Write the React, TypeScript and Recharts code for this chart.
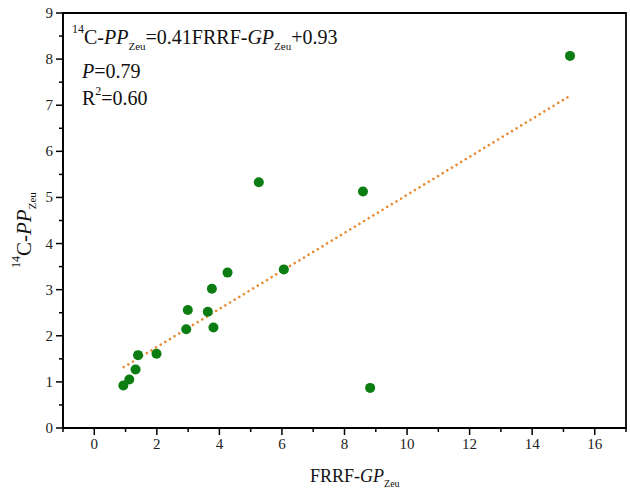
import React from 'react';
import {
  ScatterChart,
  Scatter,
  XAxis,
  YAxis,
  ReferenceArea
} from 'recharts';

// measured points, FRRF-GP (x) vs 14C-PP (y)
const frrfGp = [0.93, 1.12, 1.32, 1.4, 1.99, 2.94, 2.99, 3.63, 3.76, 3.81, 4.26, 5.26, 6.06, 8.59, 8.82, 15.21];
const c14Pp = [0.92, 1.05, 1.27, 1.58, 1.61, 2.14, 2.56, 2.52, 3.02, 2.18, 3.37, 5.33, 3.44, 5.13, 0.87, 8.07];

// ends of the fitted line as drawn
const fitX = [0.94, 15.2];
const fitY = [1.32, 7.2];

const xTicks = [-1, 0, 1, 2, 3, 4, 5, 6, 7, 8, 9, 10, 11, 12, 13, 14, 15, 16, 17];
const yTicks = [0, 0.5, 1, 1.5, 2, 2.5, 3, 3.5, 4, 4.5, 5, 5.5, 6, 6.5, 7, 7.5, 8, 8.5, 9];

const points = frrfGp.map((x, i) => ({ x, y: c14Pp[i] }));
const fitLine = fitX.map((x, i) => ({ x, y: fitY[i] }));

const serif = { fontFamily: "'Liberation Serif', 'Times New Roman', Times, serif" };

const XTick = (props: any) => {
  const { x, y, payload } = props;
  const major = payload.value % 2 === 0;
  return (
    <g>
      <line x1={x} x2={x} y1={y} y2={y + (major ? 7 : 4)} stroke="#000" strokeWidth={1.5} />
      {major && (
        <text x={x} y={y + 21} textAnchor="middle" fontSize={15} style={serif} fill="#222">
          {payload.value}
        </text>
      )}
    </g>
  );
};

const YTick = (props: any) => {
  const { x, y, payload } = props;
  const major = Number.isInteger(payload.value);
  return (
    <g>
      <line x1={x} x2={x - (major ? 7 : 4)} y1={y} y2={y} stroke="#000" strokeWidth={1.5} />
      {major && (
        <text x={x - 10} y={y + 5} textAnchor="end" fontSize={15} style={serif} fill="#222">
          {payload.value}
        </text>
      )}
    </g>
  );
};

const Overlay = () => (
  <svg
    width={630}
    height={489}
    style={{ position: 'absolute', left: 0, top: 0, pointerEvents: 'none', ...serif }}
    fill="#111"
  >
    <text x={72} fontSize={20} style={serif}>
      <tspan y={33} fontSize={12}>14</tspan>
      <tspan y={44}>C-</tspan>
      <tspan fontStyle="italic">PP</tspan>
      <tspan y={50} fontSize={11}>Zeu</tspan>
      <tspan y={44}>=0.41FRRF-</tspan>
      <tspan fontStyle="italic">GP</tspan>
      <tspan y={50} fontSize={11}>Zeu</tspan>
      <tspan y={44}>+0.93</tspan>
    </text>
    <text x={82} y={78} fontSize={20} style={serif}>
      <tspan fontStyle="italic">P</tspan>=0.79
    </text>
    <text x={82} fontSize={20} style={serif}>
      <tspan y={105}>R</tspan>
      <tspan y={95} fontSize={12}>2</tspan>
      <tspan y={105}>=0.60</tspan>
    </text>

    <text x={310} fontSize={18} style={serif}>
      <tspan y={482}>FRRF-</tspan>
      <tspan fontStyle="italic">GP</tspan>
      <tspan y={487} fontSize={10}>Zeu</tspan>
    </text>

    <g transform="translate(31, 268) rotate(-90)">
      <text x={0} fontSize={21} style={serif}>
        <tspan y={-11} fontSize={12}>14</tspan>
        <tspan y={0}>C-</tspan>
        <tspan fontStyle="italic">PP</tspan>
        <tspan y={5} fontSize={11}>Zeu</tspan>
      </text>
    </g>
  </svg>
);

const App = () => (
  <div style={{ position: 'absolute', left: 0, top: 0, width: 630, height: 489, background: '#fff' }}>
    <ScatterChart width={630} height={489} margin={{ top: 13, right: 4, bottom: 0, left: 0 }}>
      <XAxis
        type="number"
        dataKey="x"
        domain={[-1, 17]}
        ticks={xTicks}
        interval={0}
        height={61}
        tickSize={0}
        tickMargin={0}
        tickLine={false}
        tick={<XTick />}
        axisLine={{ stroke: '#000', strokeWidth: 1.5 }}
      />
      <YAxis
        type="number"
        dataKey="y"
        domain={[0, 9]}
        ticks={yTicks}
        interval={0}
        width={63}
        tickSize={0}
        tickMargin={0}
        tickLine={false}
        tick={<YTick />}
        axisLine={{ stroke: '#000', strokeWidth: 1.5 }}
      />
      <ReferenceArea x1={-1} x2={17} y1={0} y2={9} fill="none" stroke="#000" strokeWidth={1.8} />
      <Scatter
        data={fitLine}
        isAnimationActive={false}
        line={{ stroke: '#E8892F', strokeWidth: 2.6, strokeDasharray: '0.01 5.4', strokeLinecap: 'round' }}
        shape={() => <g />}
      />
      <Scatter
        data={points}
        isAnimationActive={false}
        fill="#0B7D12"
        shape={(p: any) => <circle cx={p.cx} cy={p.cy} r={5} fill="#0B7D12" />}
      />
    </ScatterChart>
    <Overlay />
  </div>
);

export default App;
